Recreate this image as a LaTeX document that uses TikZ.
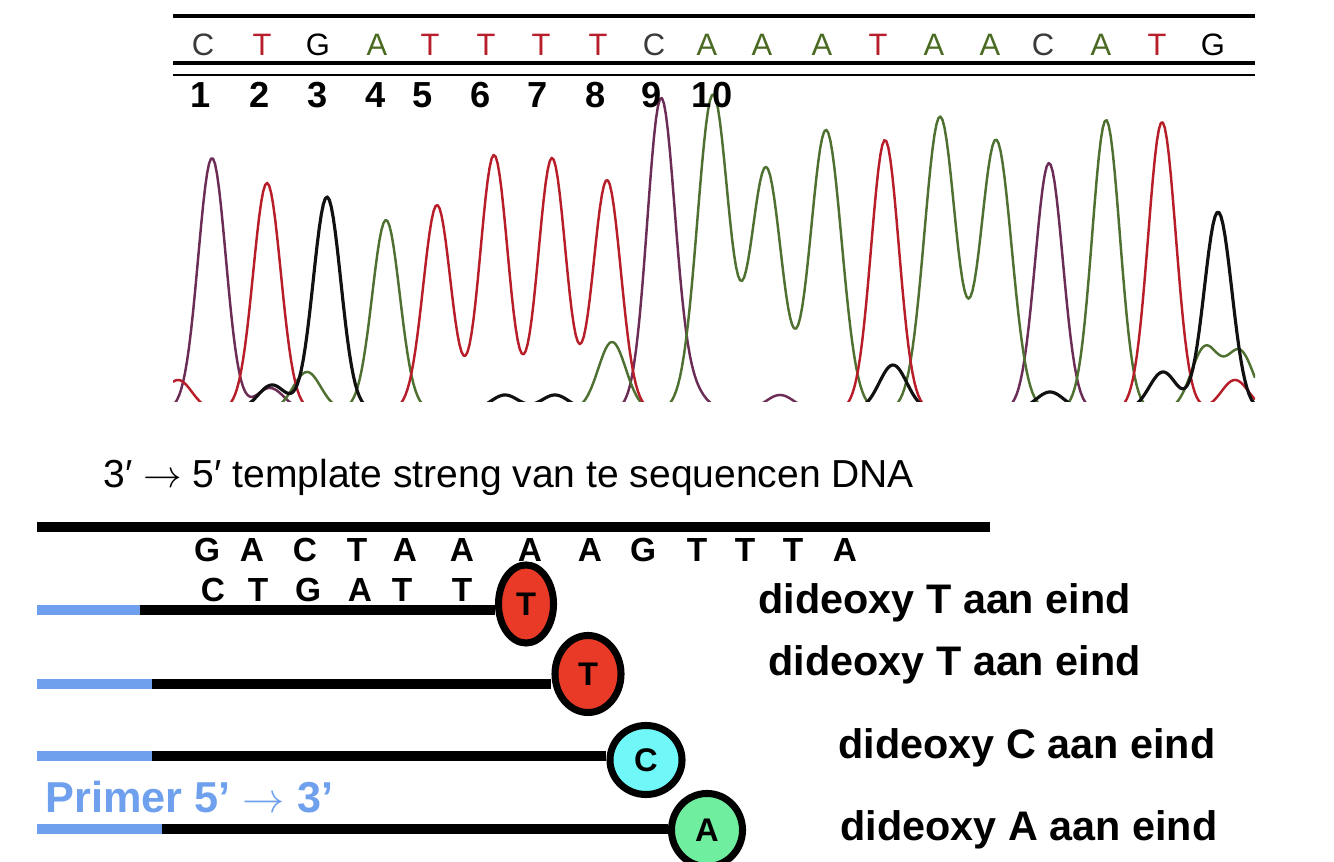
\documentclass[tikz,border=0pt]{standalone}
\usepackage{fontspec}
\setmainfont{Liberation Sans}
\usetikzlibrary{shapes.geometric, positioning}
\definecolor{traceT}{HTML}{B81E2A}
\definecolor{traceA}{HTML}{4E7030}
\definecolor{traceC}{HTML}{6B2D55}
\definecolor{traceG}{HTML}{111111}
\definecolor{seqC}{HTML}{3A3A3A}
\definecolor{seqA}{HTML}{4A6A22}
\definecolor{primerblue}{HTML}{6FA0EE}
\definecolor{ddT}{HTML}{E83A26}
\definecolor{ddC}{HTML}{70F8F8}
\definecolor{ddA}{HTML}{70EEA0}
\tikzset{
  declare function={pk(\x,\c,\h)=\h*exp(-min(((\x-\c)/19.5)*((\x-\c)/19.5),30));
                    pkw(\x,\c,\h)=\h*exp(-min(((\x-\c)/22)*((\x-\c)/22),30));},
  trace/.style={line width=0.7pt, line join=round},
  seqbase/.style={inner sep=0pt, font=\fontsize{8.8pt}{10pt}\selectfont},
  posnum/.style={inner sep=0pt, font=\bfseries\fontsize{10.3pt}{12pt}\selectfont},
  tmplbase/.style={inner sep=0pt, font=\bfseries\fontsize{9.5pt}{11pt}\selectfont},
  primer/.style={primerblue, line width=2.8pt},
  strand/.style={black, line width=2.8pt},
  ddnuc/.style={ellipse, draw=black, line width=2pt, inner sep=0pt, font=\bfseries\fontsize{9.3pt}{10pt}\selectfont},
  ddlabel/.style={anchor=west, inner sep=0pt, font=\bfseries\fontsize{11.75pt}{13pt}\selectfont},
}

\begin{document}
\begin{tikzpicture}[x=0.01cm, y=-0.01cm]
    \useasboundingbox (0,0) rectangle (1334,862);
    % Sequentie boven het chromatogram
    \draw[line width=1.1pt] (173,16) -- (1255,16);
    \draw[line width=1pt] (173,63) -- (1255,63);
    \draw[line width=0.8pt] (173,75) -- (1255,75);
    \foreach \b/\xx/\col [count=\i] in {C/203/seqC, T/262/traceT, G/318/black, A/377/seqA,
        T/430/traceT, T/486/traceT, T/541/traceT, T/598/traceT, C/654/seqC, A/707/seqA,
        A/762/seqA, A/822/seqA, T/878/traceT, A/934/seqA, A/990/seqA, C/1043/seqC,
        A/1101/seqA, T/1157/traceT, G/1213/black}
        \node[seqbase, text=\col] (s\i) at (\xx,45) {\b};
    % Chromatogram
    \begin{scope}
        \clip (173,85) rectangle (1255,402);
        \draw[trace, traceC] plot[domain=173:1255, samples=541]
            (\x, {410-pk(\x,212,252)-pk(\x,661,310)-pk(\x,1049,247)-pk(\x,270,22)-pk(\x,690,20)-pk(\x,780,15)});
        \draw[trace, traceA] plot[domain=173:1255, samples=541]
            (\x, {410-pk(\x,386,190)-pkw(\x,713,315)-pkw(\x,766,242)-pkw(\x,826,280)-pkw(\x,940,293)-pkw(\x,996,270)-pk(\x,1106,290)-pk(\x,307,38)-pk(\x,612,68)-pk(\x,1205,62)-pk(\x,1240,58)});
        \draw[trace, traceT] plot[domain=173:1255, samples=541]
            (\x, {410-pk(\x,267,227)-pk(\x,437,205)-pk(\x,494,255)-pk(\x,552,252)-pk(\x,607,230)-pk(\x,885,270)-pk(\x,1162,288)-pk(\x,178,30)-pk(\x,1235,30)});
        \draw[trace, traceG, line width=0.9pt] plot[domain=173:1255, samples=541]
            (\x, {410-pk(\x,327,213)-pk(\x,1218,198)-pk(\x,272,25)-pk(\x,505,15)-pk(\x,555,15)-pk(\x,893,45)-pk(\x,1050,18)-pk(\x,1163,38)});
    \end{scope}
    \foreach \n/\xx in {1/201, 2/260, 3/318, 4/376, 5/423, 6/481, 7/538, 8/596, 9/652, 10/712}
        \node[posnum] (n\n) at (\xx,95) {\n};

    % Template streng
    \node[anchor=west, inner sep=0pt, font=\fontsize{11.1pt}{13pt}\selectfont] (tmpl) at (103,477)
        {3′ $\rightarrow$ 5′ template streng van te sequencen DNA};
    \coordinate (t0) at (37,527);
    \coordinate (t1) at (990,527);
    \draw[strand, line width=3pt] (t0) -- (t1);
    \foreach \b/\xx [count=\i] in {G/207, A/252, C/305, T/357, A/405, A/462, A/530,
        A/590, G/643, T/697, T/745, T/793, A/845}
        \node[tmplbase] (g\i) at (\xx,550) {\b};
    \foreach \b/\xx [count=\i] in {C/213, T/258, G/308, A/360, T/402, T/462}
        \node[tmplbase] (c\i) at (\xx,590) {\b};

    % Dideoxy nucleotiden
    \node[ddnuc, fill=ddT, minimum width=0.55cm, minimum height=0.78cm] (dd1) at (526,604) {T};
    \node[ddnuc, fill=ddT, minimum width=0.66cm, minimum height=0.77cm] (dd2) at (588,674) {T};
    \node[ddnuc, fill=ddC, minimum width=0.72cm, minimum height=0.69cm] (dd3) at (646,760) {C};
    \node[ddnuc, fill=ddA, minimum width=0.71cm, minimum height=0.73cm] (dd4) at (707,830) {A};

    % Primers en verlengde strengen
    \foreach \i/\yy/\xb in {1/610/140, 2/684/152, 3/756/152, 4/829/162} {
        \coordinate (p\i) at (37,\yy);
        \coordinate (b\i) at (\xb,\yy);
        \draw[primer] (p\i) -- (b\i);
        \draw[strand] (b\i) -- (b\i -| dd\i.west);
    }
    \node[anchor=west, inner sep=0pt, text=primerblue, font=\bfseries\fontsize{12.3pt}{14pt}\selectfont]
        (primer) at (45,797) {Primer 5’ $\rightarrow$ 3’};

    % Labels
    \node[ddlabel] (l1) at (758,603) {dideoxy T aan eind};
    \node[ddlabel] (l2) at (768,665) {dideoxy T aan eind};
    \node[ddlabel] (l3) at (838,748) {dideoxy C aan eind};
    \node[ddlabel] (l4) at (840,830) {dideoxy A aan eind};
\end{tikzpicture}
\end{document}
